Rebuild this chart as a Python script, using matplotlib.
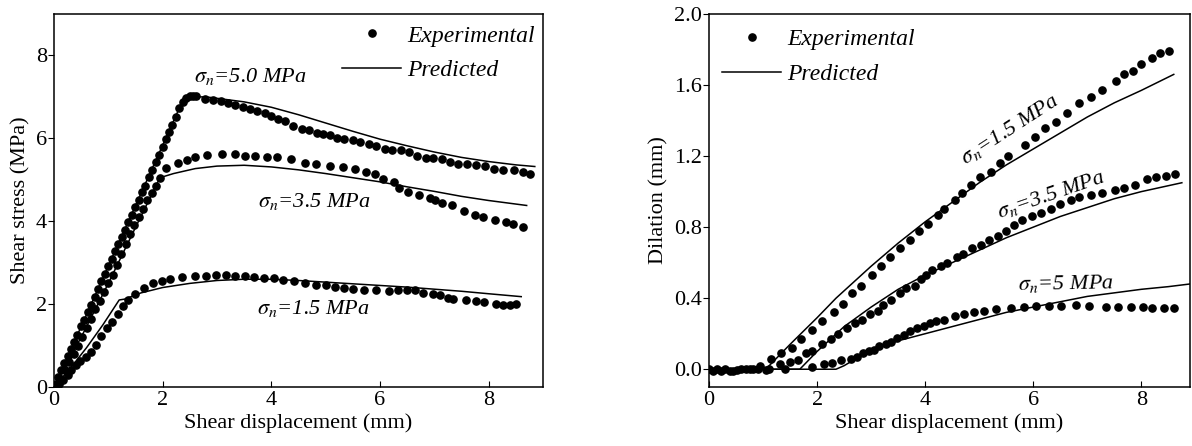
import matplotlib
matplotlib.use("Agg")
import matplotlib.pyplot as plt
from matplotlib.lines import Line2D

plt.rcParams["font.family"] = ["Liberation Serif", "DejaVu Serif"]
plt.rcParams["mathtext.fontset"] = "stix"

# ---- left panel: shear stress vs shear displacement ----
exp50_x = [0.03, 0.08, 0.13, 0.19, 0.25, 0.31, 0.37, 0.43, 0.5, 0.56, 0.62, 0.68, 0.75,
           0.81, 0.87, 0.93, 1.0, 1.06, 1.12, 1.18, 1.25, 1.31, 1.37, 1.43, 1.5, 1.56,
           1.62, 1.68, 1.75, 1.81, 1.87, 1.93, 2.0, 2.06, 2.12, 2.18, 2.25, 2.31, 2.37,
           2.43, 2.5, 2.56, 2.62, 2.78, 2.93, 3.07, 3.21, 3.34, 3.47, 3.6, 3.74, 3.88,
           4.0, 4.13, 4.26, 4.39, 4.56, 4.69, 4.84, 4.95, 5.08, 5.21, 5.34, 5.51, 5.64,
           5.8, 5.93, 6.1, 6.23, 6.39, 6.54, 6.69, 6.85, 6.98, 7.15, 7.29, 7.44, 7.61,
           7.77, 7.94, 8.1, 8.27, 8.46, 8.63, 8.76]
exp50_y = [0.08, 0.25, 0.4, 0.58, 0.75, 0.92, 1.08, 1.26, 1.46, 1.62, 1.8, 1.97, 2.18,
           2.36, 2.55, 2.72, 2.93, 3.1, 3.27, 3.45, 3.63, 3.8, 3.98, 4.15, 4.35, 4.52,
           4.7, 4.86, 5.06, 5.24, 5.42, 5.6, 5.8, 5.98, 6.15, 6.33, 6.52, 6.72, 6.88,
           6.98, 7.02, 7.02, 7.02, 6.95, 6.92, 6.89, 6.85, 6.81, 6.75, 6.71, 6.65, 6.61,
           6.53, 6.47, 6.41, 6.3, 6.23, 6.21, 6.13, 6.1, 6.07, 6.02, 5.99, 5.95, 5.9,
           5.87, 5.81, 5.74, 5.71, 5.71, 5.66, 5.58, 5.53, 5.53, 5.49, 5.43, 5.39, 5.37,
           5.36, 5.33, 5.26, 5.23, 5.23, 5.19, 5.15]

exp35_x = [0.05, 0.12, 0.2, 0.28, 0.36, 0.44, 0.52, 0.6, 0.68, 0.76, 0.84, 0.92, 1.0,
           1.08, 1.16, 1.24, 1.32, 1.4, 1.48, 1.56, 1.64, 1.72, 1.8, 1.88, 1.96, 2.07,
           2.29, 2.45, 2.6, 2.81, 3.09, 3.33, 3.51, 3.7, 3.92, 4.1, 4.36, 4.62, 4.83,
           5.08, 5.32, 5.54, 5.74, 5.91, 6.05, 6.26, 6.35, 6.52, 6.72, 6.92, 7.02, 7.15,
           7.33, 7.54, 7.74, 7.9, 8.12, 8.32, 8.45, 8.63]
exp35_y = [0.05, 0.2, 0.4, 0.6, 0.8, 1.0, 1.2, 1.42, 1.65, 1.88, 2.08, 2.3, 2.5, 2.7,
           2.95, 3.2, 3.45, 3.7, 3.9, 4.1, 4.3, 4.5, 4.68, 4.85, 5.05, 5.29, 5.41, 5.48,
           5.56, 5.6, 5.63, 5.63, 5.58, 5.58, 5.54, 5.54, 5.49, 5.4, 5.37, 5.34, 5.3,
           5.26, 5.19, 5.15, 5.03, 4.94, 4.8, 4.7, 4.64, 4.56, 4.52, 4.44, 4.4, 4.24,
           4.16, 4.1, 4.02, 3.99, 3.93, 3.85]

exp15_x = [0.05, 0.1, 0.17, 0.25, 0.32, 0.4, 0.48, 0.58, 0.68, 0.78, 0.87, 0.97, 1.07,
           1.17, 1.27, 1.37, 1.5, 1.66, 1.83, 1.99, 2.14, 2.35, 2.6, 2.8, 2.98, 3.17,
           3.34, 3.52, 3.68, 3.86, 4.05, 4.22, 4.42, 4.62, 4.82, 5.0, 5.18, 5.34, 5.51,
           5.7, 5.93, 6.16, 6.33, 6.49, 6.64, 6.79, 6.98, 7.1, 7.25, 7.35, 7.58, 7.77,
           7.92, 8.13, 8.26, 8.4, 8.51]
exp15_y = [0.02, 0.08, 0.18, 0.3, 0.42, 0.52, 0.62, 0.72, 0.85, 1.02, 1.22, 1.42, 1.58,
           1.75, 1.95, 2.1, 2.25, 2.4, 2.5, 2.56, 2.6, 2.65, 2.68, 2.68, 2.7, 2.7, 2.68,
           2.67, 2.65, 2.63, 2.62, 2.59, 2.55, 2.51, 2.47, 2.45, 2.41, 2.38, 2.36, 2.33,
           2.33, 2.32, 2.35, 2.33, 2.33, 2.28, 2.25, 2.22, 2.15, 2.12, 2.11, 2.08, 2.06,
           2.01, 1.99, 1.99, 2.01]

pred50_x = [0, 2.4, 2.8, 3.5, 4.0, 4.5, 5.0, 5.5, 6.0, 6.5, 7.0, 7.5, 8.0, 8.5, 8.85]
pred50_y = [0, 7.0, 7.0, 6.88, 6.75, 6.57, 6.37, 6.17, 5.98, 5.82, 5.67, 5.54, 5.44, 5.36, 5.32]
pred35_x = [0, 0.5, 1.0, 1.5, 1.95, 2.2, 2.6, 3.0, 3.5, 4.0, 4.5, 5.0, 5.5, 6.0, 6.5,
            7.0, 7.5, 8.0, 8.7]
pred35_y = [0, 1.2, 2.5, 3.85, 5.05, 5.15, 5.27, 5.33, 5.35, 5.31, 5.24, 5.15, 5.05,
            4.95, 4.83, 4.72, 4.6, 4.5, 4.38]
pred15_x = [0, 0.3, 0.6, 0.9, 1.2, 1.3, 1.6, 2.0, 2.5, 3.0, 3.5, 4.0, 4.5, 5.0, 5.5,
            6.0, 6.5, 7.0, 7.5, 8.0, 8.6]
pred15_y = [0, 0.45, 0.95, 1.5, 2.1, 2.12, 2.27, 2.4, 2.5, 2.57, 2.6, 2.6, 2.57, 2.53,
            2.49, 2.45, 2.41, 2.36, 2.31, 2.25, 2.18]

# ---- right panel: dilation vs shear displacement ----
dil15_x = [0.0, 0.08, 0.15, 0.22, 0.3, 0.38, 0.45, 0.52, 0.6, 0.68, 0.75, 0.82, 0.9,
           0.95, 1.05, 1.11, 1.14, 1.34, 1.53, 1.7, 1.91, 2.1, 2.32, 2.48, 2.65, 2.82,
           3.01, 3.19, 3.35, 3.54, 3.72, 3.88, 4.06, 4.23, 4.35, 4.55, 4.69, 4.84, 5.02,
           5.21, 5.38, 5.54, 5.84, 6.03, 6.22, 6.42, 6.62, 6.85, 7.06, 7.27, 7.53, 7.68,
           7.85, 8.0, 8.19, 8.35, 8.52]
dil15_y = [0.0, -0.01, 0.0, -0.01, 0.0, -0.01, -0.01, -0.005, 0.0, 0.0, 0.0, 0.0, 0.0,
           0.02, -0.005, 0.0, 0.06, 0.09, 0.12, 0.17, 0.22, 0.27, 0.32, 0.37, 0.43, 0.47,
           0.53, 0.58, 0.63, 0.68, 0.73, 0.78, 0.82, 0.87, 0.9, 0.95, 0.99, 1.04, 1.08,
           1.11, 1.16, 1.2, 1.26, 1.31, 1.36, 1.39, 1.44, 1.5, 1.53, 1.57, 1.62, 1.66,
           1.68, 1.72, 1.75, 1.78, 1.79]

dil35_x = [1.32, 1.41, 1.49, 1.65, 1.79, 1.91, 2.09, 2.26, 2.38, 2.56, 2.7, 2.84, 2.98,
           3.12, 3.22, 3.36, 3.54, 3.65, 3.81, 3.92, 4.02, 4.13, 4.3, 4.41, 4.58, 4.7,
           4.86, 5.03, 5.19, 5.35, 5.49, 5.65, 5.8, 5.98, 6.15, 6.32, 6.5, 6.69, 6.85,
           7.06, 7.27, 7.51, 7.68, 7.89, 8.1, 8.28, 8.45, 8.63]
dil35_y = [0.03, 0.0, 0.04, 0.05, 0.09, 0.1, 0.14, 0.17, 0.2, 0.23, 0.26, 0.28, 0.31,
           0.33, 0.36, 0.39, 0.43, 0.46, 0.47, 0.51, 0.53, 0.56, 0.58, 0.6, 0.63, 0.65,
           0.68, 0.7, 0.73, 0.75, 0.78, 0.81, 0.84, 0.86, 0.88, 0.9, 0.93, 0.95, 0.97,
           0.98, 0.99, 1.01, 1.02, 1.04, 1.07, 1.08, 1.09, 1.1]

dil50_x = [1.9, 2.12, 2.28, 2.45, 2.62, 2.73, 2.85, 2.96, 3.05, 3.15, 3.27, 3.36, 3.48,
           3.6, 3.72, 3.85, 3.97, 4.09, 4.2, 4.35, 4.55, 4.71, 4.9, 5.09, 5.31, 5.58,
           5.82, 6.05, 6.29, 6.51, 6.79, 7.04, 7.34, 7.56, 7.81, 8.03, 8.2, 8.42, 8.6]
dil50_y = [0.015, 0.03, 0.035, 0.05, 0.055, 0.07, 0.09, 0.1, 0.11, 0.13, 0.14, 0.155,
           0.175, 0.19, 0.215, 0.23, 0.245, 0.26, 0.27, 0.28, 0.3, 0.31, 0.32, 0.33,
           0.34, 0.345, 0.35, 0.355, 0.355, 0.355, 0.36, 0.355, 0.35, 0.35, 0.35, 0.35,
           0.345, 0.345, 0.345]

pdil15_x = [0, 1.05, 1.5, 2.0, 2.35, 3.0, 3.5, 4.0, 4.5, 5.0, 5.5, 6.0, 6.5, 7.0, 7.5,
            8.0, 8.6]
pdil15_y = [0, 0, 0.14, 0.29, 0.4, 0.58, 0.71, 0.83, 0.94, 1.05, 1.15, 1.24, 1.33, 1.42,
            1.5, 1.57, 1.66]
pdil35_x = [0, 1.68, 2.0, 2.5, 3.0, 3.5, 4.0, 4.5, 5.0, 5.5, 6.0, 6.5, 7.0, 7.5, 8.0, 8.75]
pdil35_y = [0, 0, 0.1, 0.24, 0.35, 0.45, 0.53, 0.6, 0.67, 0.74, 0.8, 0.86, 0.91, 0.96,
            1.0, 1.05]
pdil50_x = [0, 2.35, 2.5, 3.0, 3.5, 4.0, 4.5, 5.0, 5.5, 6.0, 6.5, 7.0, 7.5, 8.0, 8.5, 8.9]
pdil50_y = [0, 0, 0.02, 0.11, 0.16, 0.2, 0.24, 0.28, 0.32, 0.35, 0.38, 0.41, 0.43, 0.45,
            0.465, 0.48]

FS = 16
dot = dict(ls="none", marker="o", ms=5.2, color="black")
line = dict(color="black", lw=1.1)

fig = plt.figure(figsize=(11.92, 4.46), dpi=100)
ax1 = fig.add_axes([0.0453, 0.1323, 0.4102, 0.8363])
ax2 = fig.add_axes([0.5948, 0.1323, 0.4035, 0.8363])

for x, y in [(exp50_x, exp50_y), (exp35_x, exp35_y), (exp15_x, exp15_y)]:
    ax1.plot(x, y, **dot)
for x, y in [(pred50_x, pred50_y), (pred35_x, pred35_y), (pred15_x, pred15_y)]:
    ax1.plot(x, y, **line)

for x, y in [(dil15_x, dil15_y), (dil35_x, dil35_y), (dil50_x, dil50_y)]:
    ax2.plot(x, y, **dot)
for x, y in [(pdil15_x, pdil15_y), (pdil35_x, pdil35_y), (pdil50_x, pdil50_y)]:
    ax2.plot(x, y, **line)

ax1.set_xlim(0, 9.0)
ax1.set_ylim(0, 9.0)
ax1.set_xticks([0, 2, 4, 6, 8])
ax1.set_yticks([0, 2, 4, 6, 8])
ax1.set_xlabel("Shear displacement (mm)", fontsize=FS, labelpad=2)
ax1.set_ylabel("Shear stress (MPa)", fontsize=FS, labelpad=4)

ax2.set_xlim(0, 8.9)
ax2.set_ylim(-0.1, 2.0)
ax2.set_xticks([0, 2, 4, 6, 8])
ax2.set_yticks([0.0, 0.4, 0.8, 1.2, 1.6, 2.0])
ax2.set_yticklabels(["0.0", "0.4", "0.8", "1.2", "1.6", "2.0"])
ax2.set_xlabel("Shear displacement (mm)", fontsize=FS, labelpad=2)
ax2.set_ylabel("Dilation (mm)", fontsize=FS, labelpad=4)

for ax in (ax1, ax2):
    ax.tick_params(axis="x", direction="in", length=4, labelsize=FS, pad=3)
    ax.tick_params(axis="y", direction="out", length=4, labelsize=FS, pad=1)
    for sp in ax.spines.values():
        sp.set_linewidth(1.1)

ann = dict(fontsize=FS, style="italic")
ax1.text(2.58, 7.37, r"$\sigma_n$=5.0 MPa", **ann)
ax1.text(3.75, 4.35, r"$\sigma_n$=3.5 MPa", **ann)
ax1.text(3.73, 1.76, r"$\sigma_n$=1.5 MPa", **ann)

ax2.text(4.75, 1.15, r"$\sigma_n$=1.5 MPa", rotation=33, rotation_mode="anchor", **ann)
ax2.text(5.38, 0.85, r"$\sigma_n$=3.5 MPa", rotation=19, rotation_mode="anchor", **ann)
ax2.text(5.71, 0.445, r"$\sigma_n$=5 MPa", rotation=1, rotation_mode="anchor", **ann)

handles = [Line2D([], [], **dot), Line2D([], [], **line)]
labels = ["Experimental", "Predicted"]
leg_kw = dict(frameon=False, prop={"style": "italic", "size": 17}, numpoints=1,
              handlelength=2.5, handletextpad=0.25, labelspacing=0.55, borderpad=0,
              borderaxespad=0)
ax1.legend(handles, labels, loc="upper left", bbox_to_anchor=(0.589, 0.97), **leg_kw)
ax2.legend(handles, labels, loc="upper left", bbox_to_anchor=(0.027, 0.96), **leg_kw)

fig.savefig("out.png", dpi=100)
